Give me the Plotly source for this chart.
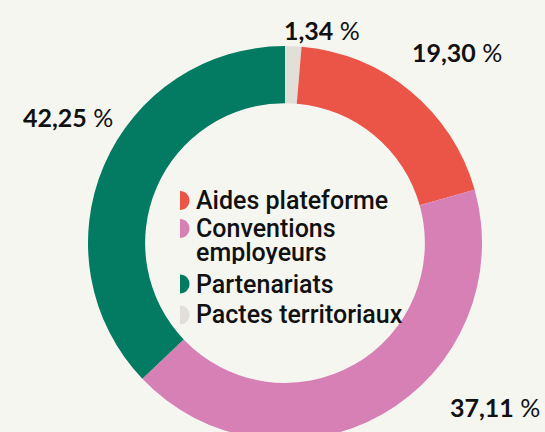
import plotly.graph_objects as go

# ---- data ----
slice_labels = ["Pactes territoriaux", "Aides plateforme", "Conventions employeurs", "Partenariats"]
slice_values = [1.34, 19.30, 42.25, 37.11]
slice_colors = ["#e2dfd8", "#ea5548", "#d680b6", "#037a62"]
# percentage labels as printed on the chart
value_labels = ["1,34", "19,30", "37,11", "42,25"]

legend_order = ["Aides plateforme", "Conventions employeurs", "Partenariats", "Pactes territoriaux"]
legend_lines = {
    "Aides plateforme": ["Aides plateforme"],
    "Conventions employeurs": ["Conventions", "employeurs"],
    "Partenariats": ["Partenariats"],
    "Pactes territoriaux": ["Pactes territoriaux"],
}

# ---- layout (pixels) ----
W, H = 545, 450
BG = "#f6f6f1"
CX, CY, R = 285, 243, 197

def px(x):
    return x / W

def py(y):
    return (H - y) / H

# label centres (pixel positions), in value_labels order
label_pos = [(322, 30), (457, 52), (495, 407), (68, 117)]
# legend rows: marker centre y and text line y's
legend_marker_y = [200.5, 228.5, 284, 315]
legend_text_y = [[200], [228, 252], [284], [314]]
marker_x = 180
text_x = 194
mr = 9.5

fig = go.Figure()
fig.add_trace(go.Pie(
    labels=slice_labels,
    values=slice_values,
    marker=dict(colors=slice_colors, line=dict(width=0)),
    sort=False,
    direction="clockwise",
    rotation=0,
    hole=0.71,
    textinfo="none",
    hoverinfo="label+percent",
    showlegend=False,
    domain=dict(x=[px(CX - R), px(CX + R)], y=[py(CY + R), py(CY - R)]),
))

annotations = []
for txt, (x, y) in zip(value_labels, label_pos):
    annotations.append(dict(
        x=px(x), y=py(y), xref="paper", yref="paper", text=f"<b>{txt}</b> %",
        showarrow=False, xanchor="center", yanchor="middle",
        font=dict(family="Lato", size=25, color="#111111"),
    ))

shapes = []
color_of = dict(zip(slice_labels, slice_colors))
k = 0.5523
for lab, my, tys in zip(legend_order, legend_marker_y, legend_text_y):
    path = (f"M 0,{mr} C {k*mr},{mr} {mr},{k*mr} {mr},0 "
            f"C {mr},{-k*mr} {k*mr},{-mr} 0,{-mr} Z")
    shapes.append(dict(
        type="path", xref="paper", yref="paper",
        xsizemode="pixel", ysizemode="pixel",
        xanchor=px(marker_x), yanchor=py(my),
        path=path, fillcolor=color_of[lab], line=dict(width=0),
    ))
    multi = len(legend_lines[lab]) > 1
    for line, ty in zip(legend_lines[lab], tys):
        ann = dict(
            x=px(text_x), y=py(ty), xref="paper", yref="paper", text=line,
            showarrow=False, xanchor="left", yanchor="middle",
            font=dict(family="Roboto", size=25, weight=500, color="#111111"),
        )
        if multi:
            ann["height"] = 24
        annotations.append(ann)

fig.update_layout(
    width=W, height=H, autosize=False,
    margin=dict(l=0, r=0, t=0, b=0),
    paper_bgcolor=BG, plot_bgcolor=BG,
    annotations=annotations, shapes=shapes,
)

fig.write_html(
    "out.html",
    config={"displayModeBar": False},
    post_script="document.body.style.margin='0';document.body.style.overflow='hidden';",
)
